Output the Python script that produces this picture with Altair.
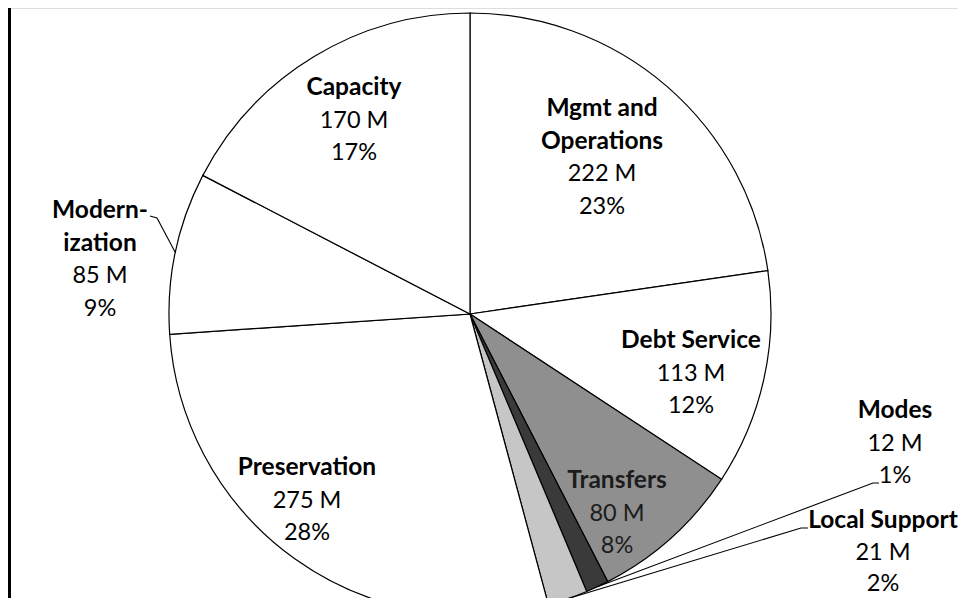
import math
import altair as alt
import pandas as pd

# ---------------- data ----------------
categories = ["Mgmt and Operations", "Debt Service", "Transfers", "Modes",
              "Local Support", "Preservation", "Modernization", "Capacity"]
values_m = [222, 113, 80, 12, 21, 275, 85, 170]
value_labels = ["222 M", "113 M", "80 M", "12 M", "21 M", "275 M", "85 M", "170 M"]
pct_labels = ["23%", "12%", "8%", "1%", "2%", "28%", "9%", "17%"]
name_lines = [["Mgmt and", "Operations"], ["Debt Service"], ["Transfers"], ["Modes"],
              ["Local Support"], ["Preservation"], ["Modern-", "ization"], ["Capacity"]]

# ---------------- layout / style ----------------
W, H = 950, 590            # plot area (px) - fits the 966x610 window with its 8px margin
CX, CY = 462, 306          # pie centre inside the plot area (px)
R = 301                    # pie radius (px)
FONT = "Lato"
FSIZE_BOLD = 24.5
FSIZE = 23.5
fills = ["white", "white", "#8f8f8f", "#3a3a3a", "#c6c6c6", "white", "white", "white"]
text_colors = ["black", "black", "#1c1c1c", "black", "black", "black", "black", "black"]
# centre of first label line, offset from pie centre (px, y downwards), and line spacing
label_anchor = [(132, -205), (221, 27), (147, 167), (425, 97),
                (413, 207), (-163, 154), (-370, -103), (-116, -226)]
line_spacing = [32.7, 32.7, 32.7, 32.7, 31.5, 32.7, 32.7, 32.7]
# leader-line bend points for labels placed outside the pie
leader_bends = {
    "Modes": [(403, 169), (409, 169)],
    "Local Support": [(331, 214), (338, 214)],
    "Modernization": [(-313, -96), (-320, -98)],
}

xs = alt.Scale(domain=[-CX, W - CX], nice=False, zero=False)
ys = alt.Scale(domain=[-CY, H - CY], nice=False, zero=False, reverse=True)

# ---------------- tables ----------------
pie_df = pd.DataFrame({
    "cat": categories,
    "value": values_m,
    "idx": list(range(len(categories))),
    "cx": [0] * len(categories),
    "cy": [0] * len(categories),
})

total = sum(values_m)
rows = []
for i, cat in enumerate(categories):
    ax, ay = label_anchor[i]
    lines = [(t, True) for t in name_lines[i]] + [(value_labels[i], False), (pct_labels[i], False)]
    for k, (t, bold) in enumerate(lines):
        rows.append({"cat": cat, "text": t, "bold": bold,
                     "tx": ax, "ty": ay + k * line_spacing[i], "tcol": text_colors[i]})
text_df = pd.DataFrame(rows)

lead_rows = []
cum = 0
for i, cat in enumerate(categories):
    mid = (cum + values_m[i] / 2) / total * 2 * math.pi
    cum += values_m[i]
    if cat in leader_bends:
        pts = [(R * math.sin(mid), -R * math.cos(mid))] + leader_bends[cat]
        for k, (px, py) in enumerate(pts):
            lead_rows.append({"cat": cat, "k": k, "lx": px, "ly": py})
lead_df = pd.DataFrame(lead_rows)

# ---------------- layers ----------------
pie = alt.Chart(pie_df).mark_arc(radius=R, stroke="black", strokeWidth=1.2).encode(
    x=alt.X("cx:Q", scale=xs, axis=None),
    y=alt.Y("cy:Q", scale=ys, axis=None),
    theta=alt.Theta("value:Q", stack=True),
    color=alt.Color("cat:N", scale=alt.Scale(domain=categories, range=fills), legend=None),
    order=alt.Order("idx:Q"),
)

def text_layer(bold):
    return alt.Chart(text_df).transform_filter(
        alt.datum.bold == bold
    ).mark_text(
        font=FONT, fontSize=FSIZE_BOLD if bold else FSIZE,
        fontWeight="bold" if bold else "normal",
        baseline="middle", align="center"
    ).encode(
        x=alt.X("tx:Q", scale=xs, axis=None),
        y=alt.Y("ty:Q", scale=ys, axis=None),
        text="text:N",
        color=alt.Color("tcol:N", scale=None),
    )

leaders = alt.Chart(lead_df).mark_line(color="black", strokeWidth=1.1).encode(
    x=alt.X("lx:Q", scale=xs, axis=None),
    y=alt.Y("ly:Q", scale=ys, axis=None),
    detail="cat:N",
    order="k:Q",
)

frame_df = pd.DataFrame({"side": ["left"]})
frame_left = alt.Chart(frame_df).mark_rule(color="black", strokeWidth=3).encode(
    x=alt.value(1.5), y=alt.value(0), y2=alt.value(H)
)

chart = alt.layer(pie, leaders, text_layer(True), text_layer(False), frame_left).properties(
    width=W, height=H,
    autosize=alt.AutoSizeParams(type="none"),
    padding=0,
).configure_view(stroke="transparent", strokeWidth=0).configure(background="white")

chart.save("out.html", embed_options={"renderer": "svg", "actions": False})
